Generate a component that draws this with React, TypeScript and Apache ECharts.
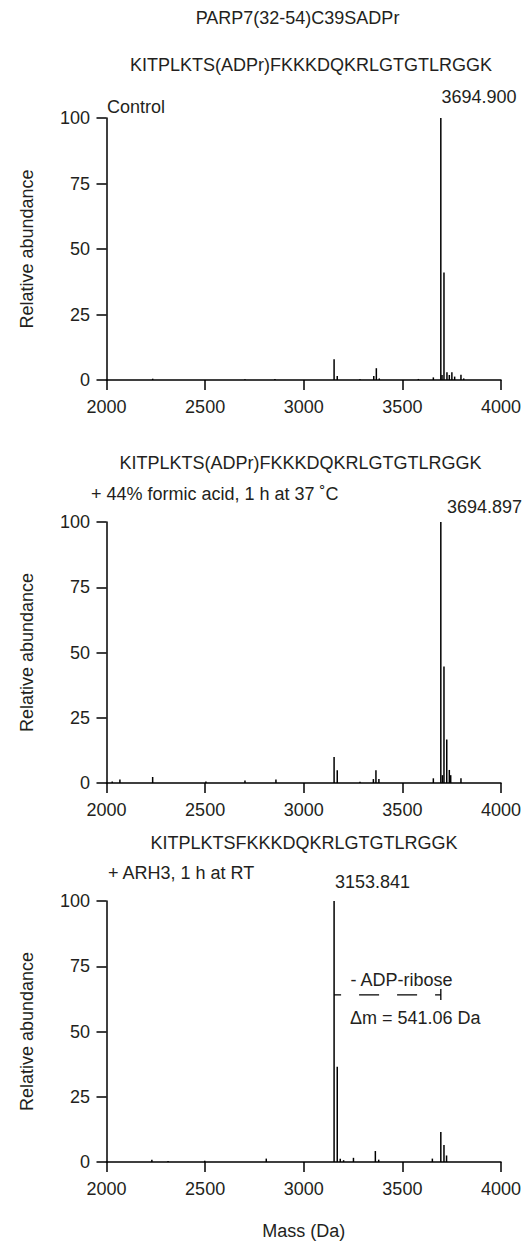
import React, { useEffect, useRef } from "react";
import * as echarts from "echarts";

const FONT = "'Liberation Sans', Arial, Helvetica, sans-serif";
const TXT = "#231f20";

// axis ranges / ticks
const X_MIN = 2000;
const X_MAX = 4000;
const X_STEP = 500;
const Y_MIN = 0;
const Y_MAX = 100;
const Y_STEP = 25;

// Panel 1: Control
const masses1 = [2234, 2702, 2854, 3153.8, 3169.8, 3285, 3355, 3368, 3383, 3581, 3657, 3694.9, 3701, 3710.9, 3726, 3738, 3751, 3765, 3797, 3811];
const abund1 = [0.5, 0.3, 0.4, 7.9, 1.5, 0.3, 1.5, 4.5, 0.6, 0.4, 1.0, 100, 1.9, 41, 3.0, 1.9, 3.0, 1.3, 2.0, 0.6];

// Panel 2: + 44% formic acid
const masses2 = [2029, 2068, 2234, 2504, 2702, 2859, 3153.8, 3169.8, 3285, 3353, 3366, 3381, 3657, 3694.9, 3703, 3710.9, 3725, 3738, 3745, 3797];
const abund2 = [0.6, 1.3, 2.3, 0.6, 1.0, 1.3, 10, 4.9, 0.5, 1.5, 4.9, 1.5, 1.8, 100, 3.0, 44.6, 16.7, 5.0, 3.0, 1.8];

// Panel 3: + ARH3
const masses3 = [2230, 2312, 2498, 2810, 3153.8, 3169.8, 3185, 3202, 3252, 3363, 3380, 3652, 3694.9, 3710.9, 3724];
const abund3 = [0.9, 0.4, 0.5, 1.3, 100, 36.5, 1.2, 0.7, 1.6, 4.2, 0.9, 1.3, 11.5, 6.5, 2.5];

// ADP-ribose loss annotation (panel 3)
const lossFrom = 3153.841;
const lossTo = 3694.897;
const lossLevel = 64;
const lossTickLow = 62.1;
const lossTickHigh = 66.3;

const gridTops = [118, 522, 901];
const gridHeights = [262, 261, 261];

function pairs(xs: number[], ys: number[]) {
  return xs.map((x, i) => [x, ys[i]]);
}

export default function App() {
  const ref = useRef<HTMLDivElement>(null);
  useEffect(() => {
    if (!ref.current) return;
    const chart = echarts.init(ref.current, undefined, { renderer: "svg" });
    const axisLine = { lineStyle: { color: "#000", width: 1.5 } };
    const grids = gridTops.map((t, i) => ({ left: 106.5, right: 29, top: t, height: gridHeights[i] }));
    const xAxes = grids.map((_, i) => ({
      type: "value",
      gridIndex: i,
      min: X_MIN,
      max: X_MAX,
      interval: X_STEP,
      axisLine: { ...axisLine, onZero: false },
      axisTick: { show: true, length: 10, lineStyle: { color: "#000", width: 1.5 } },
      axisLabel: {
        fontSize: 18,
        color: TXT,
        fontFamily: FONT,
        margin: 18,
        formatter: (v: number) => String(v),
      },
      splitLine: { show: false },
      ...(i === 2
        ? {
            name: "Mass (Da)",
            nameLocation: "middle",
            nameGap: 60,
            nameTextStyle: { fontSize: 18, color: TXT, fontFamily: FONT },
          }
        : {}),
    }));
    const yAxes = grids.map((_, i) => ({
      type: "value",
      gridIndex: i,
      min: Y_MIN,
      max: Y_MAX,
      interval: Y_STEP,
      name: "Relative abundance",
      nameLocation: "middle",
      nameGap: 71,
      nameTextStyle: { fontSize: 18, color: TXT, fontFamily: FONT },
      axisLine: { show: true, ...axisLine },
      axisTick: { show: true, length: 10, lineStyle: { color: "#000", width: 1.5 } },
      axisLabel: {
        fontSize: 18,
        color: TXT,
        fontFamily: FONT,
        margin: 16.5,
        formatter: (v: number) => String(v),
      },
      splitLine: { show: false },
    }));
    const datasets = [pairs(masses1, abund1), pairs(masses2, abund2), pairs(masses3, abund3)];
    const barSeries = datasets.map((d, i) => ({
      type: "bar",
      xAxisIndex: i,
      yAxisIndex: i,
      data: d,
      barWidth: 1.5,
      itemStyle: { color: "#000" },
      silent: true,
    }));
    const txt = (text: string, x: number, y: number, align = "left") => ({
      type: "text",
      x,
      y,
      silent: true,
      style: {
        text,
        fill: TXT,
        font: `18px ${FONT}`,
        align,
        verticalAlign: "middle",
        textAlign: align,
        textVerticalAlign: "middle",
      },
    });
    chart.setOption({
      animation: false,
      backgroundColor: "#fff",
      grid: grids,
      xAxis: xAxes,
      yAxis: yAxes,
      series: [
        ...barSeries,
        {
          type: "line",
          xAxisIndex: 2,
          yAxisIndex: 2,
          data: [
            [lossFrom, lossLevel],
            [lossTo, lossLevel],
          ],
          symbol: "none",
          silent: true,
          lineStyle: { color: "#000", width: 1.3, type: [20, 18], dashOffset: 13 },
        },
        {
          type: "line",
          xAxisIndex: 2,
          yAxisIndex: 2,
          data: [
            [lossTo, lossTickLow],
            [lossTo, lossTickHigh],
          ],
          symbol: "none",
          silent: true,
          lineStyle: { color: "#000", width: 1.3 },
        },
      ],
      graphic: [
        txt("PARP7(32-54)C39SADPr", 297.5, 18, "center"),
        txt("KITPLKTS(ADPr)FKKKDQKRLGTGTLRGGK", 311, 65, "center"),
        txt("Control", 107, 107),
        txt("3694.900", 441.5, 97),
        txt("KITPLKTS(ADPr)FKKKDQKRLGTGTLRGGK", 300.5, 463, "center"),
        txt("+ 44% formic acid, 1 h at 37 \u02DAC", 91, 494),
        txt("3694.897", 447, 507),
        txt("KITPLKTSFKKKDQKRLGTGTLRGGK", 304, 843, "center"),
        txt("+ ARH3, 1 h at RT", 108, 873),
        txt("3153.841", 335, 882),
        txt("- ADP-ribose", 350.5, 980),
        txt("\u0394m = 541.06 Da", 350, 1018),
      ],
    });
    return () => chart.dispose();
  }, []);
  return (
    <div
      ref={ref}
      style={{ position: "absolute", left: 0, top: 0, width: 530, height: 1245, background: "#fff" }}
    />
  );
}
